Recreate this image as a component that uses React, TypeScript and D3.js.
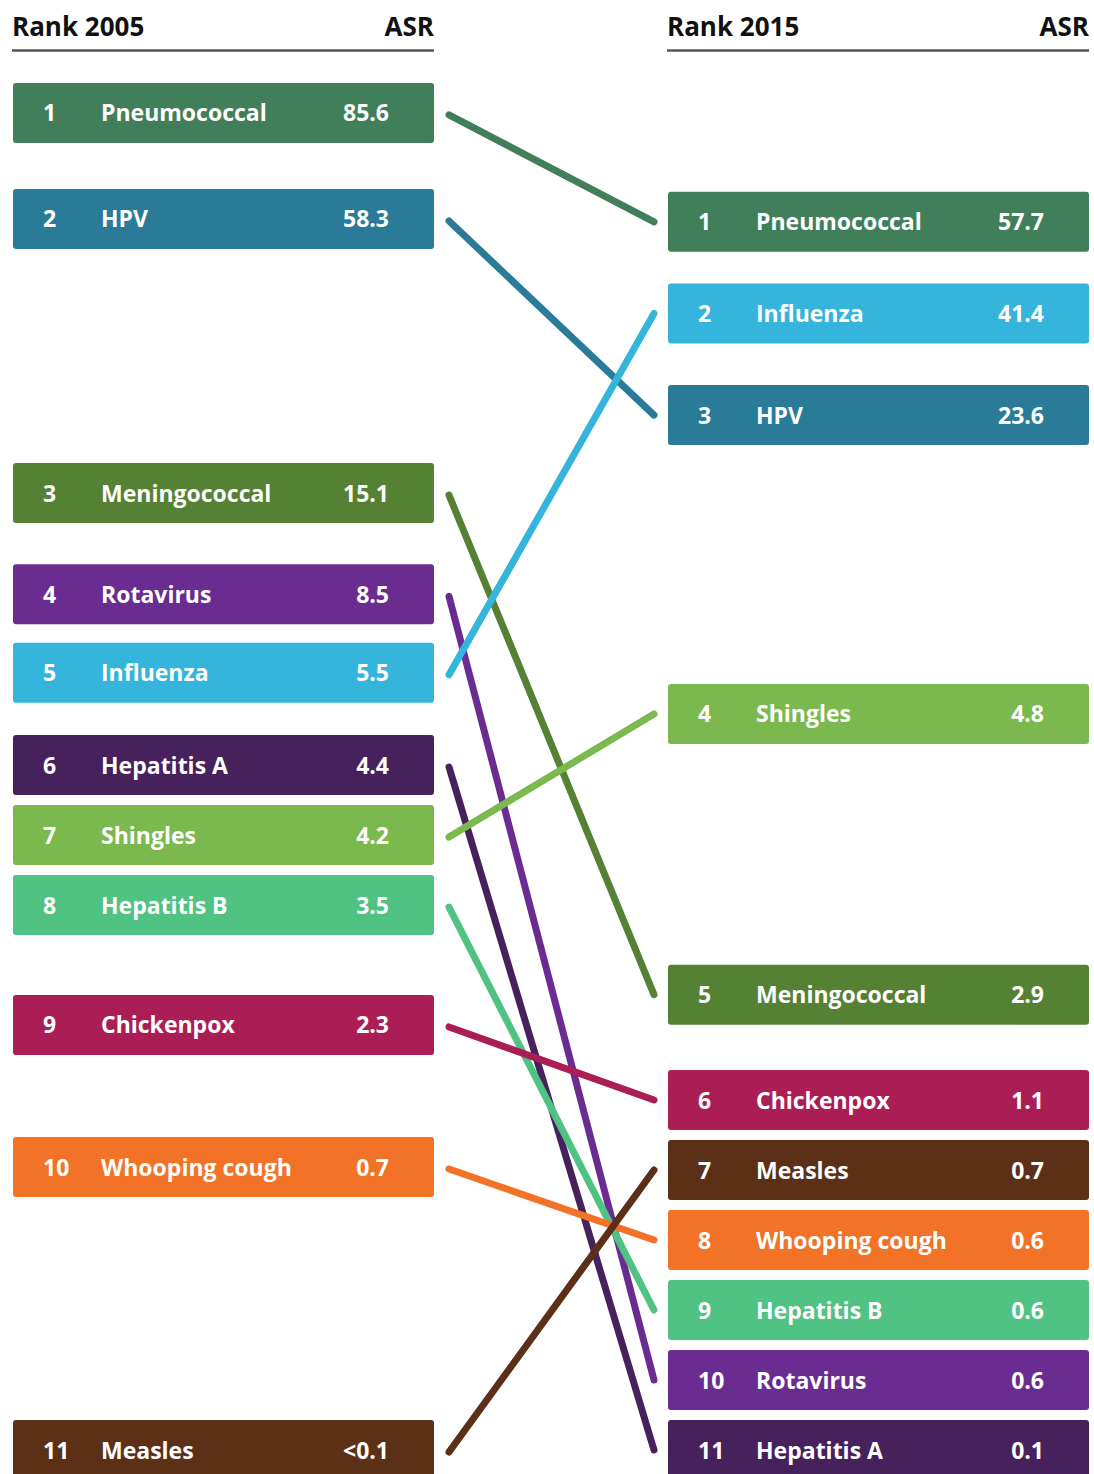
import React from 'react';
import * as d3 from 'd3';

const diseases = ['Pneumococcal', 'HPV', 'Meningococcal', 'Rotavirus', 'Influenza', 'Hepatitis A', 'Shingles', 'Hepatitis B', 'Chickenpox', 'Whooping cough', 'Measles'];
const colors = ['#417f5a', '#2a7b98', '#548133', '#6a2c91', '#35b4dc', '#47215c', '#7bb84e', '#50c282', '#ab1e55', '#f27227', '#5c2f17'];
const rank2005 = [1, 2, 3, 4, 5, 6, 7, 8, 9, 10, 11];
const asr2005 = [85.6, 58.3, 15.1, 8.5, 5.5, 4.4, 4.2, 3.5, 2.3, 0.7, 0.1];
const asr2005Labels = ['85.6', '58.3', '15.1', '8.5', '5.5', '4.4', '4.2', '3.5', '2.3', '0.7', '<0.1'];
const rank2015 = [1, 3, 5, 10, 2, 11, 4, 9, 6, 8, 7];
const asr2015 = [57.7, 23.6, 2.9, 0.6, 41.4, 0.1, 4.8, 0.6, 1.1, 0.6, 0.7];
const asr2015Labels = ['57.7', '23.6', '2.9', '0.6', '41.4', '0.1', '4.8', '0.6', '1.1', '0.6', '0.7'];
const headers = [['Rank 2005', 'ASR'], ['Rank 2015', 'ASR']];

const W = 1094;
const H = 1474;
const BOX_H = 60;
const MIN_STEP = 70;
const COL_W = 421;
const colX = [13, 668];

// piecewise log scale (value -> vertical centre)
const y = d3.scaleLog().domain([100, 40, 10, 5, 3, 2.5, 0.7, 0.1]).range([70, 323, 565, 690, 990, 1015, 1167, 1450]);

function layout(ranks: number[], vals: number[]) {
  const order = d3.range(ranks.length).sort((a, b) => ranks[a] - ranks[b]);
  const pos = new Array(ranks.length).fill(0);
  order.forEach((i) => (pos[i] = y(vals[i])));
  for (let k = 1; k < order.length; k++) {
    const prev = pos[order[k - 1]];
    if (pos[order[k]] < prev + MIN_STEP) pos[order[k]] = prev + MIN_STEP;
  }
  const maxY = y(0.1);
  if (pos[order[order.length - 1]] > maxY) pos[order[order.length - 1]] = maxY;
  for (let k = order.length - 2; k >= 0; k--) {
    const next = pos[order[k + 1]];
    if (pos[order[k]] > next - MIN_STEP) pos[order[k]] = next - MIN_STEP;
  }
  return pos;
}

const font = "'Open Sans', 'Noto Sans', sans-serif";

export default function App() {
  const y05 = layout(rank2005, asr2005);
  const y15 = layout(rank2015, asr2015);
  const cols = [
    { ranks: rank2005, ys: y05, labels: asr2005Labels },
    { ranks: rank2015, ys: y15, labels: asr2015Labels },
  ];
  const x1 = colX[0] + COL_W + 15;
  const x2 = colX[1] - 14;
  return (
    <svg width={W} height={H} style={{ position: 'absolute', left: 0, top: 0, background: '#fff' }} fontFamily={font}>
      {headers.map((h, c) => (
        <g key={'h' + c}>
          <text x={colX[c] - 1} y={36} fontSize={26} fontWeight={700} fill="#111">{h[0]}</text>
          <text x={colX[c] + COL_W} y={36} fontSize={26} fontWeight={700} fill="#111" textAnchor="end">{h[1]}</text>
          <line x1={colX[c] - 1} x2={colX[c] + COL_W} y1={50.5} y2={50.5} stroke="#555" strokeWidth={2.5} />
        </g>
      ))}
      {diseases.map((d, i) => (
        <line key={'l' + i} x1={x1} y1={y05[i] + 2} x2={x2} y2={y15[i]} stroke={colors[i]} strokeWidth={7} strokeLinecap="round" />
      ))}
      {cols.map((col, c) => (
        <g key={'c' + c}>
          {diseases.map((d, i) => (
            <g key={d} transform={`translate(${colX[c]},${col.ys[i]})`}>
              <rect x={0} y={-BOX_H / 2} width={COL_W} height={BOX_H} rx={3} fill={colors[i]} />
              <text x={30} y={8.5} fontSize={23} fontWeight={700} fill="#fff">{col.ranks[i]}</text>
              <text x={88} y={8.5} fontSize={23} fontWeight={700} fill="#fff">{d}</text>
              <text x={376} y={8.5} fontSize={23} fontWeight={700} fill="#fff" textAnchor="end">{col.labels[i]}</text>
            </g>
          ))}
        </g>
      ))}
    </svg>
  );
}
